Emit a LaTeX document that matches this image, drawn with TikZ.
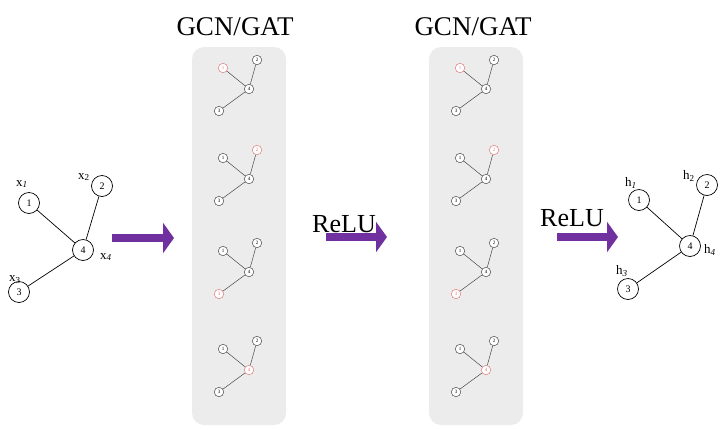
\documentclass[tikz,border=0pt]{standalone}
\usepackage{fontspec}
\setmainfont{Liberation Serif}
\usetikzlibrary{arrows.meta,positioning}
\definecolor{cPurple}{HTML}{7030A0}
\definecolor{cPanel}{HTML}{ECECEC}
\definecolor{cEdge}{HTML}{4A4A4A}
\definecolor{cHot}{HTML}{E07A7A}
\tikzset{
  bnode/.style={circle,draw=black,fill=white,line width=0.7pt,minimum size=21pt,inner sep=0pt,font=\fontsize{10}{10}\selectfont},
  snode/.style={circle,draw=cEdge,fill=white,line width=0.5pt,minimum size=9.5pt,inner sep=0pt,font=\fontsize{5}{5}\selectfont},
  hnode/.style={snode,draw=cHot,text=cHot},
  gedge/.style={line width=0.7pt,color=black},
  sedge/.style={line width=0.5pt,color=cEdge},
  panel/.style={fill=cPanel,rounded corners=12pt,minimum width=94pt,minimum height=378pt,inner sep=0pt},
  bigarr/.style={-{Triangle[length=11pt,width=30pt]},line width=8pt,color=cPurple},
  vlbl/.style={font=\fontsize{13}{13}\selectfont,inner sep=0pt},
  ttl/.style={font=\fontsize{27}{27}\selectfont,anchor=base},
  rlbl/.style={font=\fontsize{26}{26}\selectfont,anchor=base},
}

\begin{document}
\begin{tikzpicture}[x=1pt,y=-1pt]
  \useasboundingbox (0,0) rectangle (720,429);
  % input graph
  \node[bnode] (x1) at (29,203) {1};
  \node[bnode] (x2) at (102,186) {2};
  \node[bnode] (x3) at (19,292) {3};
  \node[bnode] (x4) at (83,250) {4};
  \foreach \a in {x1,x2,x3} \draw[gedge] (\a) -- (x4);
  \node[vlbl] (lx1) at (22,184) {x\textsubscript{\itshape 1}};
  \node[vlbl] (lx2) at (84,177) {x\textsubscript{2}};
  \node[vlbl] (lx3) at (15,280) {x\textsubscript{3}};
  \node[vlbl] (lx4) at (106,257) {x\textsubscript{\itshape 4}};
  % two GCN/GAT stacks
  \foreach \px/\tx in {0/235,237/473}{
    \node[panel] (p\px) at ({239+\px},236) {};
    \node[ttl] (t\px) at (\tx,35) {GCN/GAT};
    \foreach \gy/\r in {89/1,179/2,272/3,370/4}{
      \foreach \k/\dx/\dy in {1/-26/-21,2/8/-29,3/-30/22,4/0/0}{
        \ifnum\k=\r\relax\def\nst{hnode}\else\def\nst{snode}\fi
        \node[\nst] (s\px-\r-\k) at ({249+\px+\dx},{\gy+\dy}) {\k};
      }
      \foreach \k in {1,2,3} \draw[sedge] (s\px-\r-\k) -- (s\px-\r-4);
    }
  }
  % arrows
  \coordinate (a1s) at (112,238); \coordinate (a1e) at (174,238);
  \coordinate (a2s) at (326,237); \coordinate (a2e) at (387,237);
  \coordinate (a3s) at (557,237); \coordinate (a3e) at (618,237);
  \foreach \i in {1,2,3} \draw[bigarr] (a\i s) -- (a\i e);
  \node[rlbl] (r1) at (344,232) {ReLU};
  \node[rlbl] (r2) at (572,226) {ReLU};
  % output graph
  \node[bnode] (h1) at (639,200) {1};
  \node[bnode] (h2) at (707,185) {2};
  \node[bnode] (h3) at (628,289) {3};
  \node[bnode] (h4) at (690,246) {4};
  \foreach \a in {h1,h2,h3} \draw[gedge] (\a) -- (h4);
  \node[vlbl] (lh1) at (631,183) {h\textsubscript{\itshape 1}};
  \node[vlbl] (lh2) at (689,176) {h\textsubscript{2}};
  \node[vlbl] (lh3) at (622,271) {h\textsubscript{\itshape 3}};
  \node[vlbl] (lh4) at (710,250) {h\textsubscript{\itshape 4}};
\end{tikzpicture}
\end{document}
